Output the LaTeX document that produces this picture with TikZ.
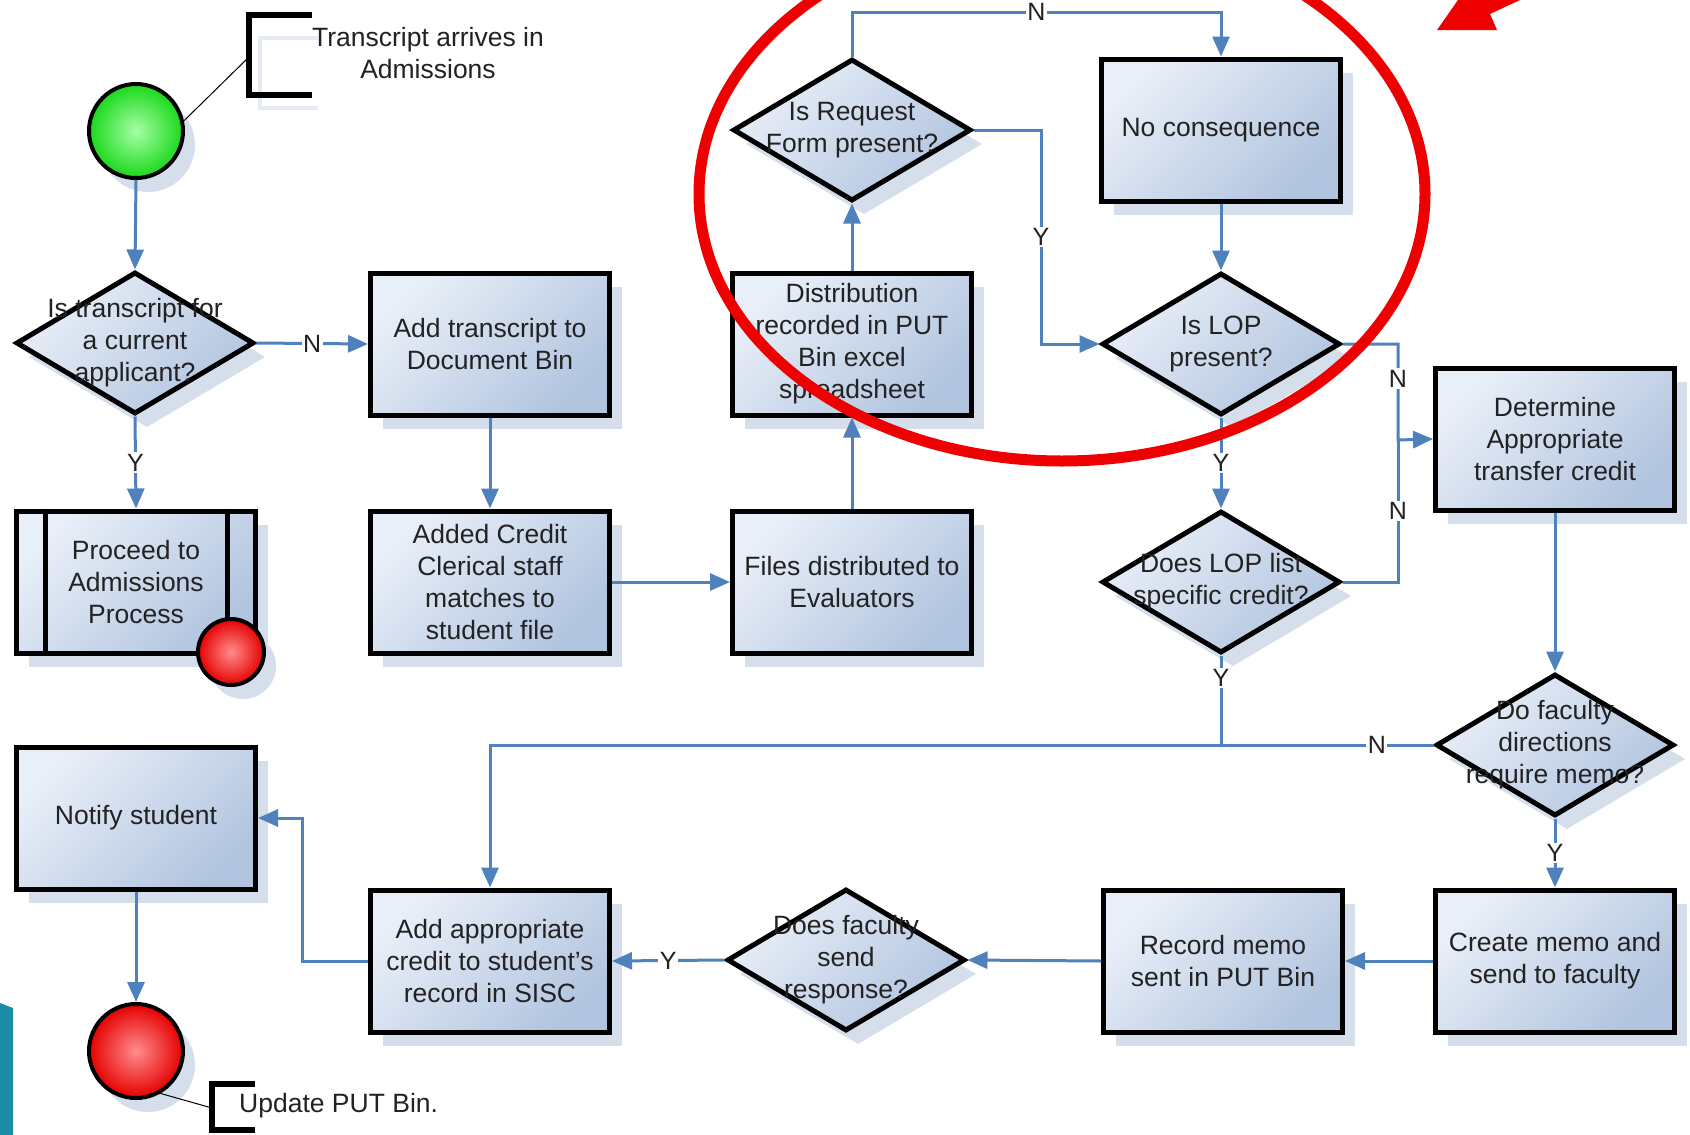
\documentclass[tikz,border=0pt]{standalone}
\usepackage{fontspec}
\setmainfont{Liberation Sans}
\usetikzlibrary{shapes.geometric,arrows.meta,calc,shadows}

\definecolor{flowc}{HTML}{4F81BD}
\definecolor{boxlight}{HTML}{E9EFF8}
\definecolor{boxdark}{HTML}{B1C4DF}
\definecolor{shadowc}{HTML}{D5DEEB}
\definecolor{faintc}{HTML}{E6EBF3}
\definecolor{ink}{HTML}{222222}
\definecolor{hilite}{HTML}{EE0000}
\definecolor{tealc}{HTML}{1A8CA8}
\definecolor{gin}{HTML}{A6FFA6}
\definecolor{gout}{HTML}{1AD81A}

\newcommand\boxfont{\fontsize{26.5}{32}\selectfont}
\newcommand\labfont{\fontsize{25}{30}\selectfont}

\begin{document}
\begin{tikzpicture}[x=1pt,y=-1pt,
  boxshadow/.style={drop shadow={shadow xshift=12pt,shadow yshift=-14pt,fill=shadowc,opacity=1}},
  proc/.style={rectangle,draw=black,line width=5pt,minimum width=239pt,minimum height=142pt,
    inner sep=0pt,align=center,font=\boxfont,text=ink,boxshadow,
    top color=boxlight,bottom color=boxdark,shading angle=45},
  dec/.style={diamond,draw=black,line width=5pt,minimum width=238pt,minimum height=142pt,
    inner sep=0pt,boxshadow,top color=boxlight,bottom color=boxdark,shading angle=45},
  dtext/.style={align=center,font=\boxfont,text=ink,inner sep=0pt},
  startc/.style={circle,draw=black,line width=4pt,minimum size=94pt,inner sep=0pt,boxshadow,
    inner color=gin,outer color=gout},
  endc/.style={circle,draw=black,line width=4pt,minimum size=94pt,inner sep=0pt,boxshadow,
    inner color=red!45!white,outer color=red!90!black},
  flow/.style={draw=flowc,line width=3pt,-{Triangle[length=20pt,width=17pt]}},
  flowline/.style={draw=flowc,line width=3pt},
  lab/.style={fill=white,inner sep=1.5pt,text=ink,font=\labfont},
  note/.style={align=center,font=\boxfont,text=ink,inner sep=0pt},
  bracket/.style={draw=black,line width=6pt},
  bracketshadow/.style={draw=faintc,line width=4pt},
  tether/.style={draw=black,line width=1pt}
]
\useasboundingbox (0,0) rectangle (1690,1135);
\fill[white] (0,0) rectangle (1690,1135);

% corner decorations
\fill[tealc] (0,1003) -- (13,1008) -- (13,1135) -- (0,1135) -- cycle;
\fill[hilite] (1437,30) -- (1458,0) -- (1520,0) -- (1490,14) -- (1497,30) -- cycle;

% routing points
\coordinate (ry) at (1041,0);
\coordinate (topy) at (0,12);
\coordinate (bus) at (1398,440);
\coordinate (jx) at (302,0);

% start and annotation
\node[startc] (st) at (136,131) {};
\draw[bracketshadow] (318,38) -- (260,38) -- (260,108) -- (318,108);
\draw[bracket] (312,15) -- (249,15) -- (249,95) -- (312,95);
\coordinate (b1) at (249,57);
\draw[tether] (st.12) -- (b1);
\node[note] (t0) at (428,53) {Transcript arrives in\\Admissions};

% decisions
\node[dec] (d1) at (135,343) {};
\node[dtext] (d1t) at (d1) {Is transcript for\\a current\\applicant?};
\node[dec] (rf) at (852,130) {};
\node[dtext] (rft) at (rf) {Is Request\\Form present?};
\node[dec] (lop) at (1221,344) {};
\node[dtext] (lopt) at (lop) {Is LOP\\present?};
\node[dec] (dl) at (1221,582) {};
\node[dtext] (dlt) at (dl) {Does LOP list\\specific credit?};
\node[dec] (df) at (1555,745) {};
\node[dtext] (dft) at (df) {Do faculty\\directions\\require memo?};
\node[dec] (dfr) at (846,960) {};
\node[dtext] (dfrt) at (dfr) {Does faculty\\send\\response?};

% process steps
\node[proc] (addt) at (490,344) {Add transcript to\\Document Bin};
\node[proc] (ac) at (490,582) {Added Credit\\Clerical staff\\matches to\\student file};
\node[proc] (fd) at (852,582) {Files distributed to\\Evaluators};
\node[proc] (dr) at (852,344) {Distribution\\recorded in PUT\\Bin excel\\spreadsheet};
\node[proc] (nc) at (1221,130) {No consequence};
\node[proc] (det) at (1555,439) {Determine\\Appropriate\\transfer credit};
\node[proc] (ns) at (136,818) {Notify student};
\node[proc] (ap) at (490,961) {Add appropriate\\credit to student's\\record in SISC};
\node[proc] (rm) at (1223,961) {Record memo\\sent in PUT Bin};
\node[proc] (cm) at (1555,961) {Create memo and\\send to faculty};

% predefined process with its end marker
\node[proc] (pa) at (136,582) {Proceed to\\Admissions\\Process};
\draw[draw=black,line width=5pt] ([xshift=31pt]pa.north west) -- ([xshift=31pt]pa.south west);
\draw[draw=black,line width=5pt] ([xshift=-31pt]pa.north east) -- ([xshift=-31pt]pa.south east);
\node[endc,minimum size=66pt] (pe) at (231,652) {};

% end and annotation
\node[endc] (en) at (136,1051) {};
\draw[bracket] (255,1084) -- (212,1084) -- (212,1130) -- (255,1130);
\coordinate (b2) at (212,1108);
\draw[tether] (en.300) -- (b2);
\node[note,anchor=west] (t1) at (239,1106) {Update PUT Bin.};

% connectors
\draw[flow] (st.south) -- (d1.north);
\draw[flow] (d1.east) -- node[lab]{N} (addt.west);
\draw[flow] (d1.south) -- node[lab]{Y} (pa.north);
\draw[flow] (addt.south) -- (ac.north);
\draw[flow] (ac.east) -- (fd.west);
\draw[flow] (fd.north) -- (dr.south);
\draw[flow] (dr.north) -- (rf.south);
\draw[flow] (rf.north) -- (rf.north |- topy) -| node[lab,pos=0.25]{N} (nc.north);
\draw[flow] (rf.east) -| node[lab,pos=0.75]{Y} (ry |- lop.west) -- (lop.west);
\draw[flow] (nc.south) -- (lop.north);
\draw[flow] (lop.east) -| node[lab,pos=0.68]{N} (bus) -- (det.west);
\draw[flowline] (dl.east) -| node[lab,pos=0.75]{N} (bus);
\draw[flow] (lop.south) -- node[lab]{Y} (dl.north);
\draw[flow] (det.south) -- (df.north);
\draw[flowline] (dl.south) -- node[lab,pos=0.25]{Y} (dl.south |- df.west);
\draw[flow] (df.west) -| node[lab,pos=0.03]{N} (ap.north);
\draw[flow] (df.south) -- node[lab]{Y} (cm.north);
\draw[flow] (cm.west) -- (rm.east);
\draw[flow] (rm.west) -- (dfr.east);
\draw[flow] (dfr.west) -- node[lab]{Y} (ap.east);
\draw[flow] (ap.west) -| (jx |- ns.east) -- (ns.east);
\draw[flow] (ns.south) -- (en.north);

% highlight ring
\begin{scope}
  \clip (0,0) rectangle (1690,1135);
  \draw[hilite,line width=11pt] (1062,194) ellipse [x radius=363, y radius=267];
\end{scope}
\end{tikzpicture}
\end{document}
